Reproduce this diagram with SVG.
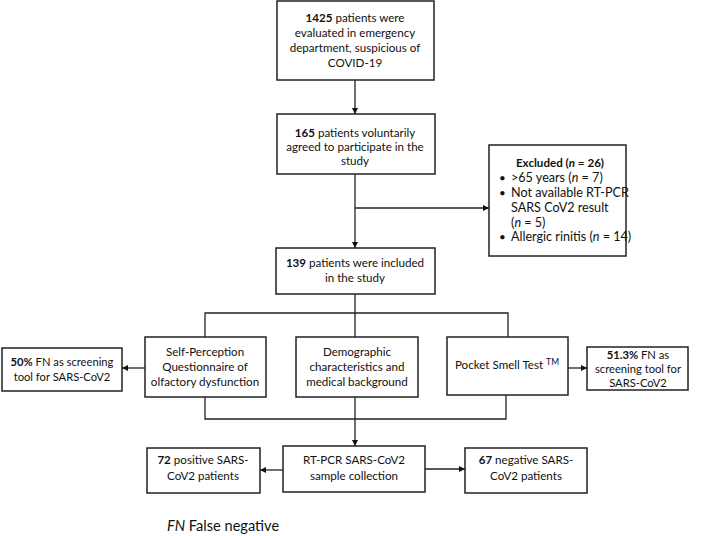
<svg xmlns="http://www.w3.org/2000/svg" width="709" height="536" viewBox="0 0 709 536">
<defs>
<marker id="ah" viewBox="0 0 10 10" refX="10" refY="5" markerWidth="6" markerHeight="6" markerUnits="userSpaceOnUse" orient="auto">
<path d="M0,0 L10,5 L0,10 z" fill="#111"/>
</marker>
<style>
.box{fill:#fff;stroke:#222;stroke-width:1.5}
.ln{fill:none;stroke:#222;stroke-width:1.3}
text{font-family:Lato,"Liberation Sans",sans-serif;font-size:11.6px;fill:#111;text-anchor:middle}
.b{font-weight:bold}
.l{text-anchor:start}
.s{font-size:11.2px}
.e{font-size:12.6px}
.fn{font-size:14.6px}
</style>
</defs>
<rect width="709" height="536" fill="#fff"/>
<g id="connectors">
<path class="ln" d="M355,80 V114" marker-end="url(#ah)"/>
<path class="ln" d="M355,174 V248" marker-end="url(#ah)"/>
<path class="ln" d="M355,208 H489" marker-end="url(#ah)"/>
<path class="ln" d="M355,294 V313 M205,337 V313 H508 V337 M355,313 V337"/>
<path class="ln" d="M145,368 H122" marker-end="url(#ah)"/>
<path class="ln" d="M568,368 H587" marker-end="url(#ah)"/>
<path class="ln" d="M205,397 V419 H506 V395"/>
<path class="ln" d="M355,397 V446" marker-end="url(#ah)"/>
<path class="ln" d="M283,470 H260" marker-end="url(#ah)"/>
<path class="ln" d="M425,469 H465" marker-end="url(#ah)"/>
</g>
<g id="n1">
<rect class="box" x="277" y="1" width="157" height="79"/>
<text x="355" y="22"><tspan class="b">1425</tspan> patients were</text>
<text x="355" y="37">evaluated in emergency</text>
<text x="355" y="52">department,  suspicious of</text>
<text x="355" y="67">COVID-19</text>
</g>
<g id="n2">
<rect class="box" x="277" y="114" width="158" height="60"/>
<text x="355" y="137"><tspan class="b">165</tspan> patients voluntarily</text>
<text x="355" y="151">agreed to participate in the</text>
<text x="355" y="165">study</text>
</g>
<g id="excluded">
<rect class="box" x="489" y="145" width="137" height="111"/>
<text x="560" y="167" class="b">Excluded (<tspan font-style="italic">n</tspan> = 26)</text>
<text x="499" y="182" class="l">•</text>
<text x="511" y="182" class="l e">&gt;65 years (<tspan font-style="italic">n</tspan> = 7)</text>
<text x="499" y="197" class="l">•</text>
<text x="511" y="197" class="l e">Not available RT-PCR</text>
<text x="511" y="212" class="l e">SARS CoV2 result</text>
<text x="511" y="227" class="l e">(<tspan font-style="italic">n</tspan> = 5)</text>
<text x="499" y="241" class="l">•</text>
<text x="511" y="241" class="l e">Allergic rinitis (<tspan font-style="italic">n</tspan> = 14)</text>
</g>
<g id="n3">
<rect class="box" x="276" y="248" width="159" height="46"/>
<text x="355" y="267"><tspan class="b">139</tspan> patients were included</text>
<text x="355" y="282">in the study</text>
</g>
<g id="selfperc">
<rect class="box" x="145" y="337" width="121" height="60"/>
<text x="205" y="356">Self-Perception</text>
<text x="205" y="371">Questionnaire of</text>
<text x="205" y="386">olfactory dysfunction</text>
</g>
<g id="demo">
<rect class="box" x="296" y="337" width="122" height="60"/>
<text x="357" y="356">Demographic</text>
<text x="357" y="371">characteristics and</text>
<text x="357" y="386">medical background</text>
</g>
<g id="pocket">
<rect class="box" x="447" y="337" width="121" height="58"/>
<text x="507" y="369">Pocket Smell Test <tspan font-size="8.5" dy="-4">TM</tspan></text>
</g>
<g id="fn50">
<rect class="box" x="2" y="348" width="120" height="43"/>
<text x="62" y="366" class="s"><tspan class="b">50%</tspan> FN as screening</text>
<text x="62" y="381" class="s">tool  for SARS-CoV2</text>
</g>
<g id="fn513">
<rect class="box" x="587" y="347" width="101" height="43"/>
<text x="638" y="359" class="s"><tspan class="b">51.3%</tspan> FN as</text>
<text x="638" y="373" class="s">screening tool for</text>
<text x="638" y="387" class="s">SARS-CoV2</text>
</g>
<g id="rtpcr">
<rect class="box" x="283" y="446" width="142" height="46"/>
<text x="354" y="464">RT-PCR SARS-CoV2</text>
<text x="354" y="480">sample collection</text>
</g>
<g id="pos">
<rect class="box" x="147" y="448" width="113" height="45"/>
<text x="203" y="464"><tspan class="b">72</tspan> positive SARS-</text>
<text x="203" y="480">CoV2 patients</text>
</g>
<g id="neg">
<rect class="box" x="465" y="448" width="122" height="45"/>
<text x="526" y="464"><tspan class="b">67</tspan> negative SARS-</text>
<text x="526" y="480">CoV2 patients</text>
</g>
<text x="167" y="531" class="l fn"><tspan font-style="italic">FN</tspan> False negative</text>
</svg>
